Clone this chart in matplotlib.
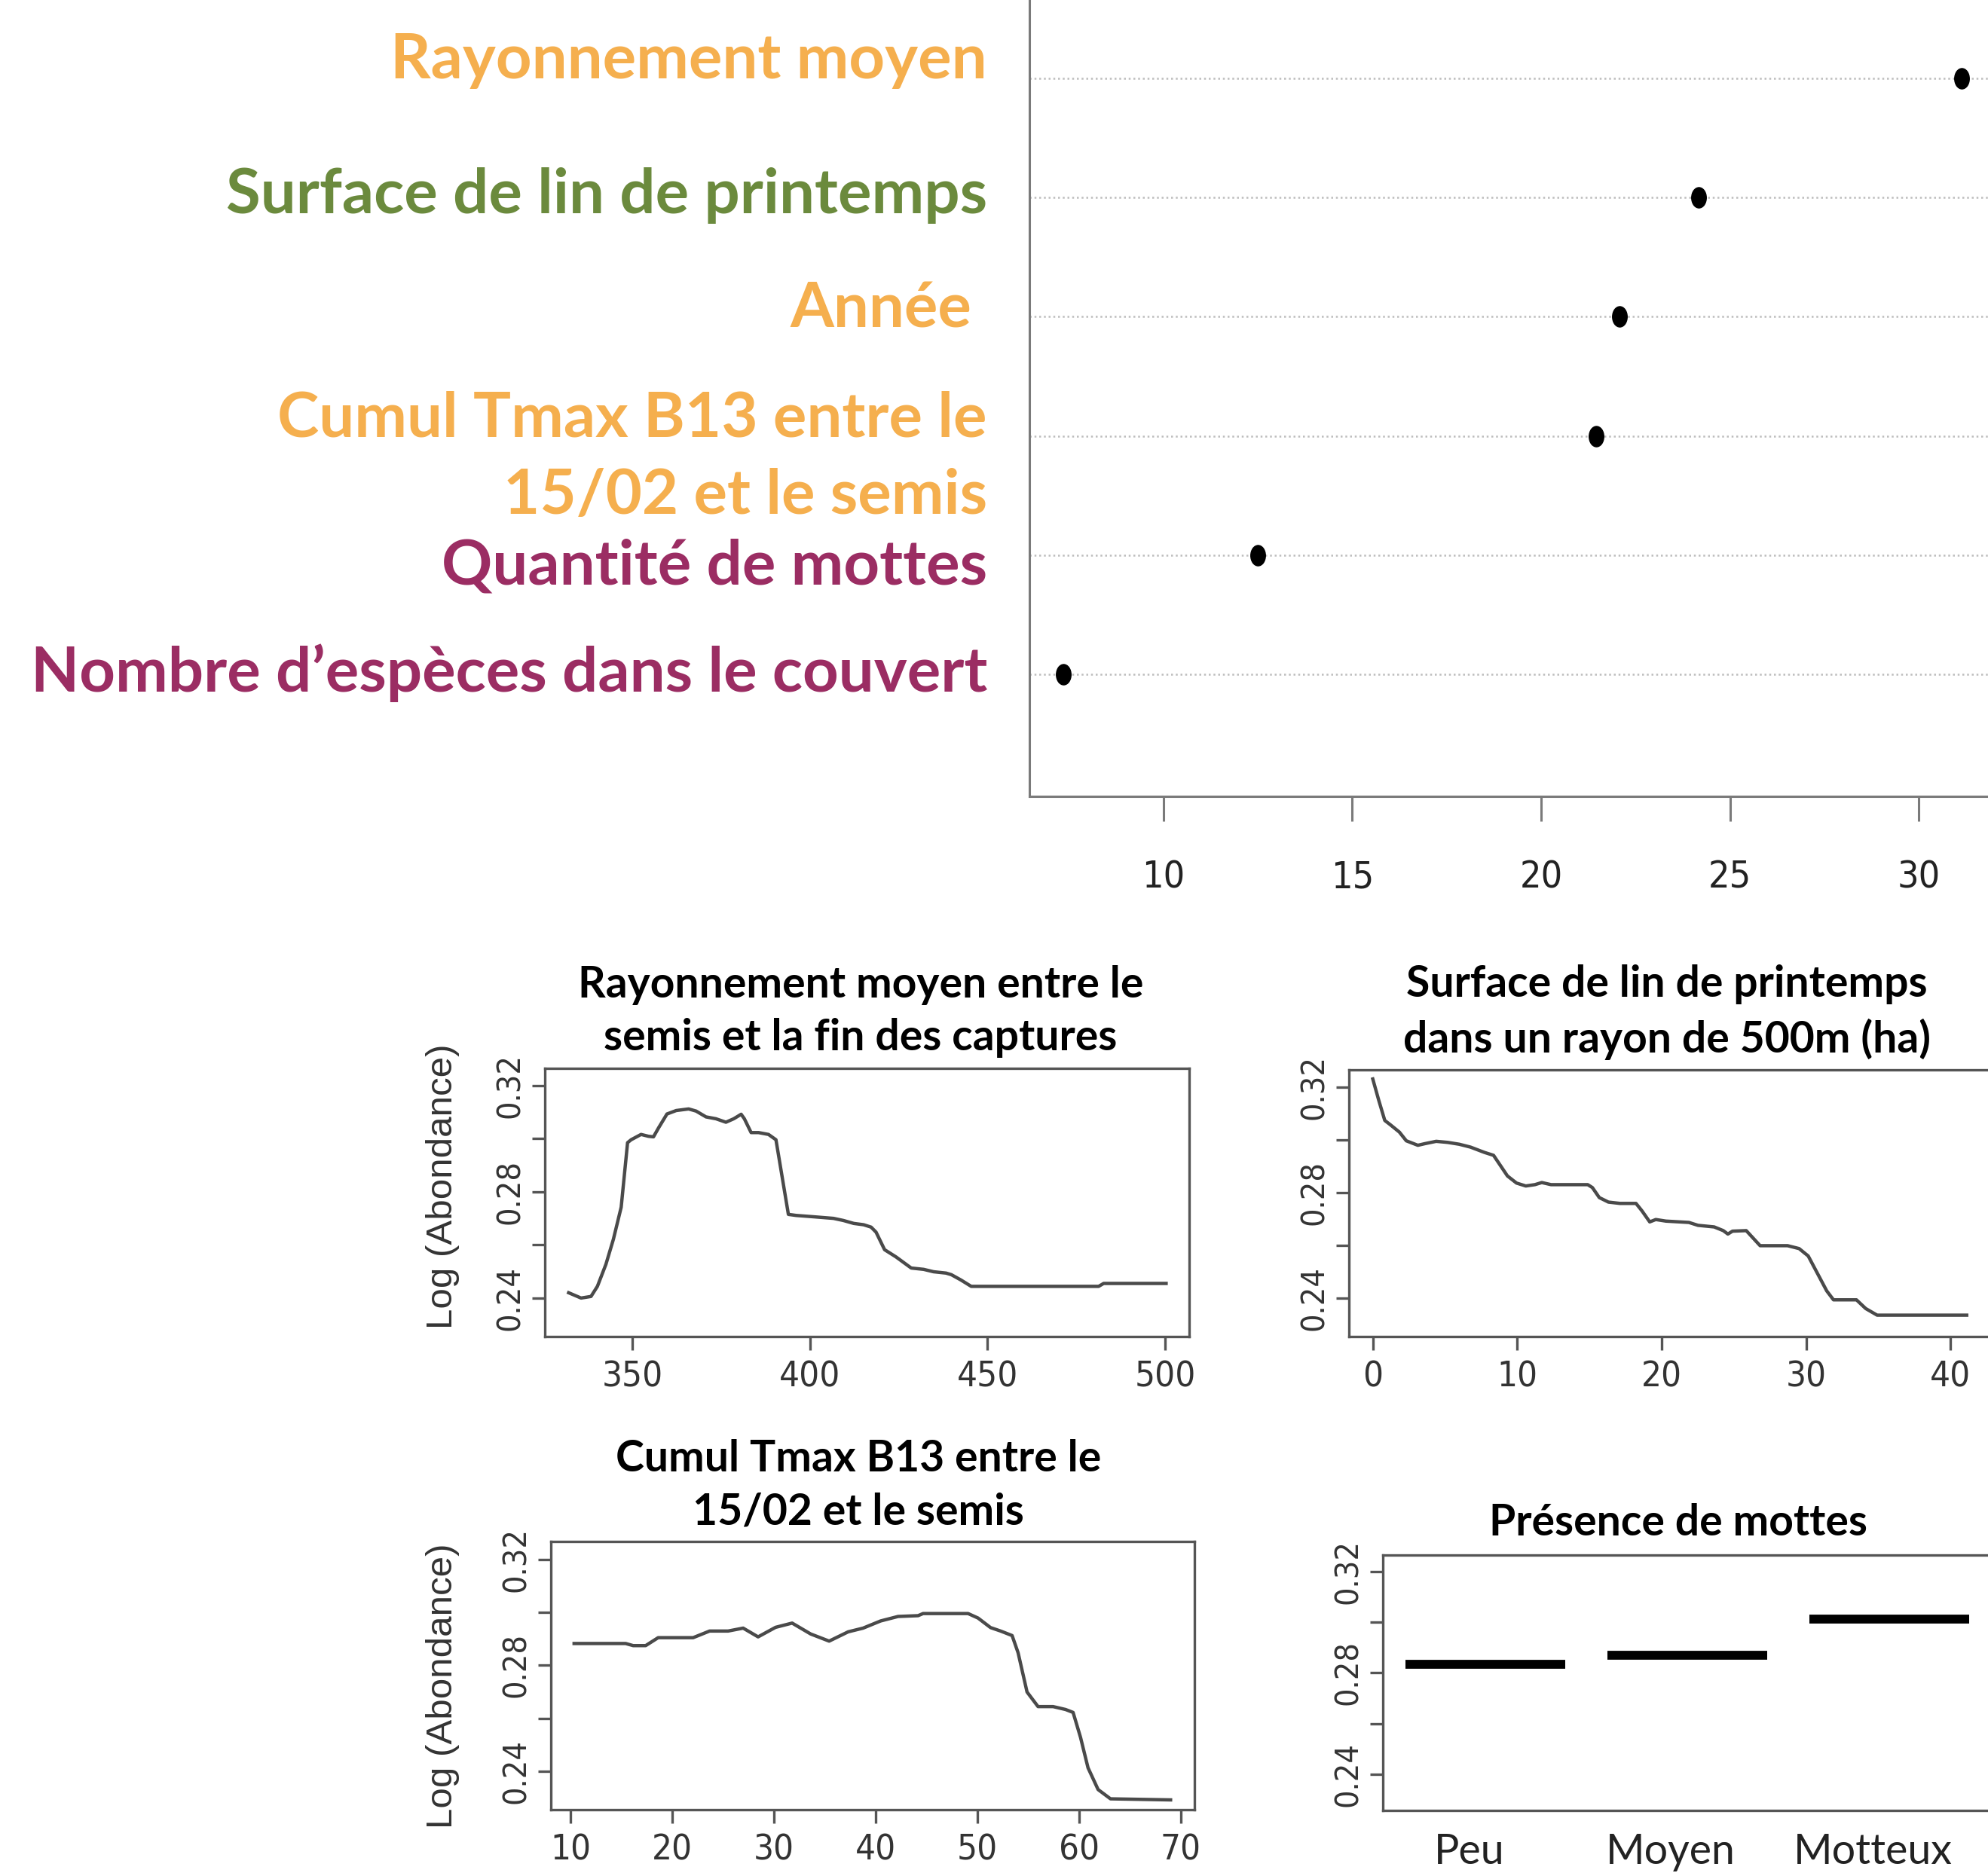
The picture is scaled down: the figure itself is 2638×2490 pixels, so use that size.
import matplotlib
matplotlib.use("Agg")
import matplotlib.pyplot as plt
import matplotlib.transforms as mtransforms
from matplotlib.path import Path

W, H = 2638, 2490
DPI = 100

ORANGE = "#F5AF4E"
GREEN = "#6B8A3D"
PURPLE = "#9B2D63"

# variable importance (bottom to top)
var_labels = [
    "Nombre d’espèces dans le couvert",
    "Quantité de mottes",
    "Cumul Tmax B13 entre le\n15/02 et le semis",
    "Année ",
    "Surface de lin de printemps",
    "Rayonnement moyen",
]
var_importance = [7.34, 12.49, 21.46, 22.07, 24.18, 31.14]
var_colors = [PURPLE, PURPLE, ORANGE, ORANGE, GREEN, ORANGE]
importance_ticks = [10, 15, 20, 25, 30]

# partial dependence: rayonnement moyen
ray_x = [332, 335.5, 338.3, 340.1, 342.5, 344.6, 346.8, 348.6, 349.6, 352.4, 354.5,
         355.9, 357.3, 359.7, 362.3, 365.8, 367.9, 370.7, 373.5, 376.3, 378.5, 380.6,
         381.5, 383.4, 385.5, 388.3, 390.4, 393.9, 396.1, 401.0, 406.6, 409.4, 412.3,
         415.1, 417.2, 418.6, 421.0, 424.2, 428.5, 432.0, 434.8, 438.3, 439.8, 442.5,
         445.4, 481.3, 482.7, 500.3]
ray_y = [0.2420, 0.2400, 0.2406, 0.2444, 0.2527, 0.2621, 0.2742, 0.2985, 0.2996, 0.3016,
         0.3009, 0.3007, 0.3040, 0.3093, 0.3106, 0.3112, 0.3104, 0.3082, 0.3075, 0.3062,
         0.3075, 0.3092, 0.3075, 0.3023, 0.3023, 0.3016, 0.2996, 0.2715, 0.2711, 0.2706,
         0.2700, 0.2692, 0.2681, 0.2676, 0.2667, 0.2648, 0.2582, 0.2555, 0.2513, 0.2508,
         0.2499, 0.2494, 0.2488, 0.2468, 0.2444, 0.2444, 0.2455, 0.2455]

# partial dependence: surface de lin de printemps
surf_x = [0, 0.41, 0.83, 1.21, 1.84, 2.32, 3.12, 3.59, 4.39, 5.18, 5.98, 6.77, 7.73,
          8.36, 8.84, 9.32, 9.95, 10.59, 11.22, 11.70, 12.34, 14.88, 15.20, 15.68,
          16.31, 17.11, 18.22, 18.63, 19.17, 19.59, 20.29, 21.88, 22.51, 23.63, 24.26,
          24.58, 24.90, 25.85, 26.17, 26.81, 28.71, 29.51, 30.14, 30.78, 31.42, 31.89,
          33.48, 34.12, 34.91, 41.11]
surf_y = [0.3230, 0.3150, 0.3073, 0.3057, 0.3029, 0.2996, 0.2979, 0.2985, 0.2994, 0.2990,
          0.2983, 0.2972, 0.2952, 0.2941, 0.2902, 0.2863, 0.2836, 0.2825, 0.2830, 0.2838,
          0.2830, 0.2830, 0.2819, 0.2781, 0.2764, 0.2759, 0.2759, 0.2731, 0.2689, 0.2698,
          0.2692, 0.2687, 0.2676, 0.2670, 0.2656, 0.2643, 0.2654, 0.2656, 0.2637, 0.2599,
          0.2599, 0.2588, 0.2560, 0.2494, 0.2428, 0.2394, 0.2394, 0.2361, 0.2336, 0.2336]

# partial dependence: cumul Tmax B13
tmax_x = [10.34, 15.41, 16.15, 17.38, 18.61, 22.05, 23.67, 25.49, 26.97, 28.44, 30.16,
          31.79, 33.61, 35.43, 37.30, 38.77, 40.49, 42.21, 44.18, 44.67, 49.10, 50.08,
          51.31, 52.30, 53.43, 54.02, 54.90, 55.98, 57.46, 58.69, 59.43, 60.16, 60.90,
          61.89, 63.11, 69.02]
tmax_y = [0.2882, 0.2882, 0.2874, 0.2874, 0.2904, 0.2904, 0.2929, 0.2929, 0.2940, 0.2907,
          0.2943, 0.2959, 0.2918, 0.2891, 0.2926, 0.2940, 0.2967, 0.2984, 0.2987, 0.2995,
          0.2995, 0.2978, 0.2942, 0.2929, 0.2912, 0.2847, 0.2699, 0.2644, 0.2644, 0.2633,
          0.2622, 0.2528, 0.2413, 0.2331, 0.2296, 0.2292]

# partial dependence: présence de mottes
mottes_levels = ["Peu", "Moyen", "Motteux"]
mottes_y = [0.2833, 0.2870, 0.3013]

pd_major = [0.24, 0.28, 0.32]
pd_minor = [0.26, 0.30]

TITLE_FONT = ["Lato", "DejaVu Sans"]
TICK_FONT = ["DejaVu Sans"]
LAB_FONT = ["Liberation Sans", "DejaVu Sans"]


def box(l, t, r, b):
    return [l / W, 1 - b / H, (r - l) / W, (b - t) / H]


def condensed(labels, size):
    for t in labels:
        t.set_family(TICK_FONT)
        t.set_fontstretch("condensed")
        t.set_fontsize(size)


fig = plt.figure(figsize=(W / DPI, H / DPI), dpi=DPI)

# ---------------- importance dot chart ----------------
ax = fig.add_axes(box(1366, -58, 2700, 1057))
pos = list(range(1, len(var_labels) + 1))
for p in pos:
    ax.axhline(p, color="#bdbdbd", lw=1.8, ls=(0, (1, 1.5)), zorder=1)
circ = Path.unit_circle()
ellipse = Path(circ.vertices * [0.72, 1.0], circ.codes)
ax.plot(var_importance, pos, ls="none", marker=ellipse, ms=19.5, color="black", zorder=3)
ax.set_xlim(6.45, 33.07)
ax.set_ylim(-0.024, 7.024)
ax.set_xticks(importance_ticks)
ax.set_yticks([])
for s in ["top", "right"]:
    ax.spines[s].set_visible(False)
for s in ["left", "bottom"]:
    ax.spines[s].set_color("#7a7a7a")
    ax.spines[s].set_linewidth(2.2)
ax.tick_params(axis="x", length=24, width=2.2, color="#7a7a7a", pad=36,
               labelcolor="#222222")
condensed(ax.get_xticklabels(), 36)

label_dy = [-2, 15, 29, -9, -3, -23]  # pixel nudges of the coloured labels
for p, lab, col, dy in zip(pos, var_labels, var_colors, label_dy):
    trans = mtransforms.blended_transform_factory(fig.transFigure, ax.transData)
    trans = trans + mtransforms.ScaledTranslation(0, -dy / DPI, fig.dpi_scale_trans)
    fig.text(1310 / W, p, lab, transform=trans, ha="right", va="center",
             fontsize=60, fontweight="bold", color=col, family=TITLE_FONT,
             linespacing=1.45, multialignment="right")


# ---------------- partial dependence panels ----------------
def style_pd(a, xlim, xticks):
    a.set_xlim(*xlim)
    a.set_ylim(0.2255, 0.3266)
    a.set_yticks(pd_major)
    a.set_yticks(pd_minor, minor=True)
    a.set_yticklabels([f"{v:.2f}" for v in pd_major], rotation=90, va="center")
    for s in a.spines.values():
        s.set_color("#555555")
        s.set_linewidth(2.4)
    a.tick_params(axis="y", which="both", length=12, width=2.4, color="#555555",
                  pad=6, labelcolor="#333333")
    condensed(a.get_yticklabels(), 31)
    if xticks is not None:
        a.set_xticks(xticks)
        a.tick_params(axis="x", length=13, width=2.4, color="#555555", pad=10,
                      labelcolor="#333333")
        condensed(a.get_xticklabels(), 34)


a1 = fig.add_axes(box(723, 1417.6, 1578, 1774))
a1.plot(ray_x, ray_y, color="#4a4a4a", lw=3.2)
style_pd(a1, (325.3, 506.8), [350, 400, 450, 500])

a2 = fig.add_axes(box(1790, 1419.5, 2645, 1774))
a2.plot(surf_x, surf_y, color="#4a4a4a", lw=3.2)
style_pd(a2, (-1.65, 42.95), [0, 10, 20, 30, 40])

a3 = fig.add_axes(box(730.8, 2046.3, 1585, 2402))
a3.plot(tmax_x, tmax_y, color="#4a4a4a", lw=3.2)
style_pd(a3, (8.04, 71.37), [10, 20, 30, 40, 50, 60, 70])

a4 = fig.add_axes(box(1834.6, 2064.4, 2644, 2402.7))
lev = list(range(1, len(mottes_levels) + 1))
a4.hlines(mottes_y, [p - 0.396 for p in lev], [p + 0.396 for p in lev],
          color="black", lw=8.5)
style_pd(a4, (0.49, 3.51), None)
a4.set_ylim(0.2258, 0.3263)
a4.set_xticks(lev)
a4.set_xticklabels(mottes_levels)
a4.tick_params(axis="x", length=0, pad=22, labelsize=40, labelcolor="#222222")
shift = mtransforms.ScaledTranslation(-22 / DPI, 0, fig.dpi_scale_trans)
for t in a4.get_xticklabels():
    t.set_family(TITLE_FONT)
    t.set_transform(t.get_transform() + shift)

titles = [
    ("Rayonnement moyen entre le\nsemis et la fin des captures", 1142, 1342.6),
    ("Surface de lin de printemps\ndans un rayon de 500m (ha)", 2212, 1343.6),
    ("Cumul Tmax B13 entre le\n15/02 et le semis", 1139, 1971.7),
    ("Présence de mottes", 2227, 2022),
]
for txt, x, y in titles:
    fig.text(x / W, 1 - y / H, txt, ha="center", va="center", fontsize=41,
             fontweight="bold", color="black", family=TITLE_FONT, linespacing=1.4)

for y in [1575, 2238]:
    fig.text(588 / W, 1 - y / H, "Log (Abondance)", rotation=90, ha="center",
             va="center", fontsize=35.5, color="#333333", family=LAB_FONT)

fig.savefig("out.png", dpi=DPI, facecolor="white")
